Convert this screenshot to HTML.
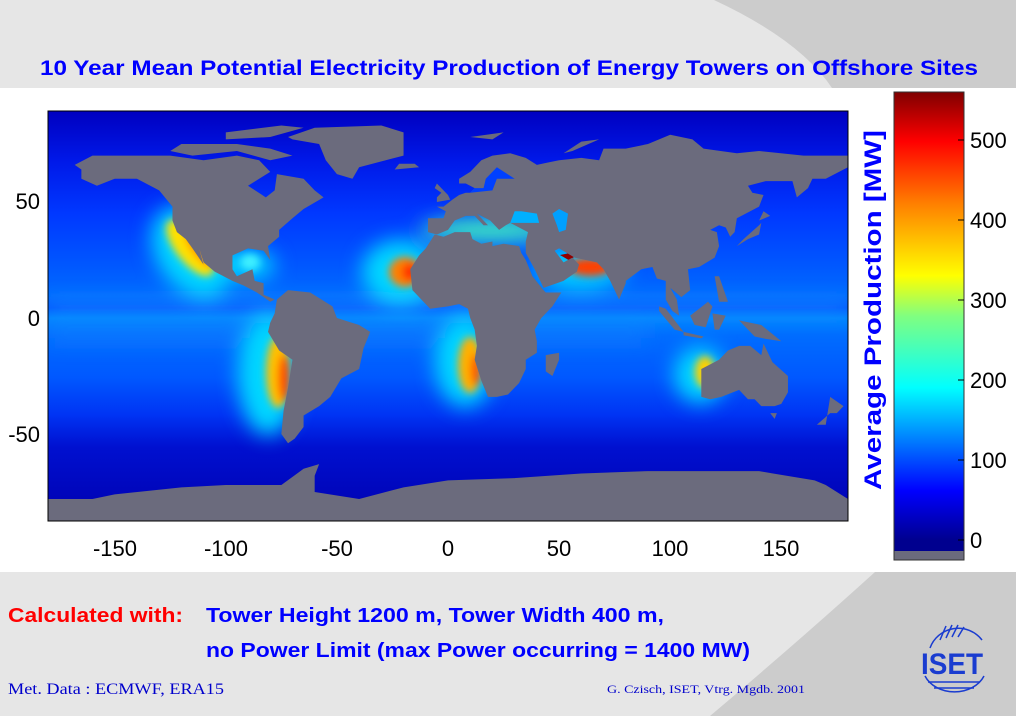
<!DOCTYPE html>
<html><head><meta charset="utf-8"><style>
html,body{margin:0;padding:0;background:#fff}
svg{display:block}
text{font-family:"Liberation Sans",Arial,sans-serif}
</style></head><body>
<svg width="1016" height="716" viewBox="0 0 1016 716" xmlns="http://www.w3.org/2000/svg">
<defs>
<linearGradient id="ocean" x1="0" y1="111" x2="0" y2="521" gradientUnits="userSpaceOnUse">
<stop offset="0" stop-color="#0000c0"/>
<stop offset="0.12" stop-color="#0018e8"/>
<stop offset="0.25" stop-color="#0038ff"/>
<stop offset="0.38" stop-color="#0058ff"/>
<stop offset="0.45" stop-color="#006cff"/>
<stop offset="0.48" stop-color="#005cff"/>
<stop offset="0.505" stop-color="#0084ff"/>
<stop offset="0.55" stop-color="#006cff"/>
<stop offset="0.65" stop-color="#0058ff"/>
<stop offset="0.74" stop-color="#0034f4"/>
<stop offset="0.82" stop-color="#0010d0"/>
<stop offset="1" stop-color="#0000b0"/>
</linearGradient>
<linearGradient id="jet" x1="0" y1="540" x2="0" y2="92" gradientUnits="userSpaceOnUse">
<stop offset="0" stop-color="#00008f"/>
<stop offset="0.11" stop-color="#0000ff"/>
<stop offset="0.34" stop-color="#00ffff"/>
<stop offset="0.5" stop-color="#80ff80"/>
<stop offset="0.59" stop-color="#ffff00"/>
<stop offset="0.75" stop-color="#ff8000"/>
<stop offset="0.89" stop-color="#ff0000"/>
<stop offset="1" stop-color="#7f0000"/>
</linearGradient>
<filter id="b1" x="-50%" y="-50%" width="200%" height="200%"><feGaussianBlur stdDeviation="10"/></filter>
<filter id="b2" x="-50%" y="-50%" width="200%" height="200%"><feGaussianBlur stdDeviation="4"/></filter>
<clipPath id="pc"><rect x="48" y="111" width="800" height="410"/></clipPath>
</defs>
<rect width="1016" height="716" fill="#e6e6e6"/>
<path d="M714,0 Q800,40 832,88 L1016,88 L1016,0Z" fill="#cccccc"/>
<path d="M875,572 Q800,640 710,716 L1016,716 L1016,572Z" fill="#cccccc"/>
<rect x="0" y="88" width="1016" height="484" fill="#ffffff"/>
<text x="40" y="75" font-size="21" font-weight="bold" fill="#0000ff" textLength="938" lengthAdjust="spacingAndGlyphs">10 Year Mean Potential Electricity Production of Energy Towers on Offshore Sites</text>
<g clip-path="url(#pc)">
<rect x="48" y="111" width="800" height="410" fill="url(#ocean)"/>
<g filter="url(#b1)">
<rect x="48" y="302" width="800" height="10" fill="#30a8ff" opacity="0.5"/>
<rect x="48" y="328" width="600" height="14" fill="#2090ff" opacity="0.4"/>
<ellipse cx="192" cy="252" rx="35" ry="50" fill="#00d8ff" transform="rotate(-35 192 252)"/>
<ellipse cx="268" cy="375" rx="30" ry="60" fill="#00d8ff"/>
<ellipse cx="400" cy="272" rx="38" ry="32" fill="#00d8ff"/>
<ellipse cx="465" cy="362" rx="30" ry="45" fill="#00d8ff"/>
<ellipse cx="580" cy="268" rx="45" ry="22" fill="#00d0ff"/>
<ellipse cx="700" cy="375" rx="26" ry="28" fill="#00d8ff"/>
<ellipse cx="250" cy="265" rx="25" ry="15" fill="#00d0ff"/>
<ellipse cx="490" cy="230" rx="70" ry="12" fill="#40f0c0"/>
</g>
<g filter="url(#b2)">
<ellipse cx="190" cy="248" rx="14" ry="34" fill="#ffe000" transform="rotate(-38 190 248)"/>
<ellipse cx="200" cy="250" rx="7" ry="22" fill="#ff9000" transform="rotate(-38 200 250)"/>
<ellipse cx="278" cy="372" rx="12" ry="36" fill="#ffc000"/>
<ellipse cx="284" cy="378" rx="6" ry="24" fill="#ff5000"/>
<ellipse cx="405" cy="272" rx="16" ry="15" fill="#ff8000"/>
<ellipse cx="410" cy="272" rx="8" ry="9" fill="#ff3000"/>
<ellipse cx="470" cy="365" rx="12" ry="28" fill="#ffb000"/>
<ellipse cx="476" cy="370" rx="5" ry="16" fill="#ff5000"/>
<ellipse cx="590" cy="267" rx="22" ry="9" fill="#ff4000"/>
<ellipse cx="705" cy="372" rx="10" ry="16" fill="#ffd000"/>
<ellipse cx="250" cy="262" rx="10" ry="8" fill="#40f0ff"/>
</g>
<polygon points="527,250 540,240 556,278 548,282" fill="#e82000"/>
<polygon points="560,255 575,252 572,262" fill="#900000"/>
<g transform="translate(448,318) scale(2.222,-2.32)" fill="#6b6b7d">
<polygon points="-168,66 -160,70 -140,70 -125,70 -110,68 -95,70 -85,68 -80,63 -90,57 -82,52 -78,55 -77,62 -65,60 -60,55 -56,52 -65,47 -70,43 -76,38 -76,35 -81,31 -80,25 -83,29 -90,30 -97,27 -97,21 -95,18 -88,21 -87,16 -83,15 -83,10 -78,8 -80,7 -86,11 -92,14 -97,16 -105,20 -110,24 -112,30 -110,23 -115,30 -118,34 -122,37 -124,42 -124,48 -130,55 -140,60 -150,60 -158,57 -165,60 -165,64"/>
<polygon points="-72,78 -60,82 -30,83 -20,80 -20,70 -40,65 -43,60 -50,62 -55,68 -58,75 -70,77"/>
<polygon points="-120,75 -95,75 -80,73 -70,70 -80,68 -95,72 -115,70 -125,72"/>
<polygon points="-100,80 -75,83 -65,82 -80,78 -100,77"/>
<polygon points="-24,64 -13,65 -15,66.5 -22,66.5"/>
<polygon points="-77,8 -72,12 -62,11 -52,5 -50,0 -40,-3 -35,-6 -38,-13 -40,-22 -48,-26 -53,-34 -58,-38 -65,-42 -65,-47 -69,-52 -72,-54 -75,-50 -74,-40 -72,-30 -70,-18 -76,-14 -81,-6 -80,-2 -78,2"/>
<polygon points="-9,43 -9,37 -5,36 0,38 3,42 8,44 12,44 16,40 18,40 13,45 19,42 23,38 26,40 28,41 36,37 35,33 35,28 39,21 43,13 52,16 58,20 59,23 56,26 52,24 48,29 50,30 57,26 62,25 67,24 70,21 73,16 77,8 80,15 80,16 87,21 92,22 94,17 98,16 98,8 101,3 104,1 103,8 100,13 105,9 109,12 108,21 113,22 120,26 122,31 121,37 118,38 122,40 125,39 127,35 129,37 130,43 140,48 142,53 137,54 135,57 143,59 155,59 157,52 162,56 164,60 170,60 180,65 180,70 160,70 140,72 130,71 115,73 110,77 100,79 90,75 80,73 70,73 68,68 60,69 50,68 45,67 40,66 35,69 28,71 20,70 15,68 10,63 5,60 5,58 8,58 12,56 10,54 8,54 5,53 2,51 -2,48 -5,48 -1,46 -2,43"/>
<polygon points="-5,50 1,51 0,53 -3,56 -5,58 -6,56 -3,54 -5,52"/>
<polygon points="10,78 25,80 20,77"/>
<polygon points="52,71 60,76 68,77 56,72"/>
<polygon points="130,31 135,34 140,36 141,41 140,40 133,34"/>
<polygon points="140,42 145,44 142,46"/>
<polygon points="-17,21 -16,12 -12,8 -8,4 0,5 5,6 9,4 10,0 12,-5 13,-12 12,-18 15,-27 18,-34 22,-34 27,-33 32,-28 35,-22 35,-18 40,-15 40,-10 39,-5 42,0 47,5 51,11 44,11 43,12 38,18 35,25 33,28 32,31 25,32 20,31 20,33 15,32 11,34 10,37 3,37 -2,35 -6,36 -10,30 -13,27"/>
<polygon points="44,-16 50,-15 50,-18 47,-25 44,-23"/>
<polygon points="114,-22 114,-34 118,-35 123,-34 131,-31 135,-35 138,-35 141,-38 147,-38 150,-37 153,-32 153,-25 146,-19 142,-11 141,-16 136,-12 131,-12 126,-14 122,-18"/>
<polygon points="95,5 98,4 106,-6 102,-5 95,3"/>
<polygon points="109,1 113,4 117,7 119,5 116,-4 111,-3"/>
<polygon points="106,-6 115,-8 114,-8.8 106,-7.5"/>
<polygon points="131,-1 141,-3 150,-10 143,-9 138,-8"/>
<polygon points="120,18 122,18 126,7 122,7"/>
<polygon points="119,2 125,1 122,-5 120,-5"/>
<polygon points="145,-41 148,-41 147,-43.5"/>
<polygon points="172,-34 178,-38 175,-41 172,-41 166,-46 170,-46"/>
<polygon points="-180,-78 -160,-78 -150,-76 -120,-73 -100,-72 -75,-72 -65,-65 -58,-63 -60,-68 -60,-75 -40,-78 -20,-73 0,-70 30,-69 60,-67 90,-66 120,-66 140,-66 165,-70 170,-72 180,-78 180,-90 -180,-90"/>
</g>
<g transform="translate(448,318) scale(2.222,-2.32)">
<polygon points="28,41 41,41 40,45 33,46 30,46" fill="#00b0ff"/>
<polygon points="47,45 50,47 54,45 53,38 50,37 49,40" fill="#00a0ff"/>
<polygon points="10,54 20,55 22,60 30,60 22,65 17,60 16,56 12,56" fill="#0040ff"/>
</g>
</g>
<rect x="48" y="111" width="800" height="410" fill="none" stroke="#000" stroke-width="1"/>
<g font-size="22" fill="#000">
<text x="40" y="209" text-anchor="end">50</text>
<text x="40" y="326" text-anchor="end">0</text>
<text x="40" y="442" text-anchor="end">-50</text>
<g text-anchor="middle">
<text x="115" y="556">-150</text><text x="226" y="556">-100</text><text x="337" y="556">-50</text>
<text x="448" y="556">0</text><text x="559" y="556">50</text><text x="670" y="556">100</text><text x="781" y="556">150</text>
</g>
</g>
<rect x="894" y="92" width="70" height="459" fill="url(#jet)"/>
<rect x="894" y="551" width="70" height="9" fill="#6b6b7d"/>
<rect x="894" y="92" width="70" height="468" fill="none" stroke="#333" stroke-width="1"/>
<g stroke="#000"><line x1="958" y1="140" x2="964" y2="140"/><line x1="958" y1="220" x2="964" y2="220"/><line x1="958" y1="300" x2="964" y2="300"/><line x1="958" y1="380" x2="964" y2="380"/><line x1="958" y1="460" x2="964" y2="460"/><line x1="958" y1="540" x2="964" y2="540"/></g>
<g font-size="22" fill="#000">
<text x="970" y="148">500</text><text x="970" y="228">400</text><text x="970" y="308">300</text>
<text x="970" y="388">200</text><text x="970" y="468">100</text><text x="970" y="548">0</text>
</g>
<text transform="translate(881,310) rotate(-90)" text-anchor="middle" font-size="24" font-weight="bold" fill="#0000ff" textLength="360" lengthAdjust="spacingAndGlyphs">Average Production  [MW]</text>
<text x="8" y="622" font-size="20" font-weight="bold" fill="#ff0000" textLength="175" lengthAdjust="spacingAndGlyphs">Calculated with:</text>
<text x="206" y="622" font-size="20" font-weight="bold" fill="#0000ff" textLength="458" lengthAdjust="spacingAndGlyphs">Tower Height 1200 m, Tower Width 400 m,</text>
<text x="206" y="657" font-size="20" font-weight="bold" fill="#0000ff" textLength="544" lengthAdjust="spacingAndGlyphs">no Power Limit (max Power occurring = 1400 MW)</text>
<text x="8" y="694" font-size="16" fill="#0000cc" style="font-family:'Liberation Serif',serif" textLength="216" lengthAdjust="spacingAndGlyphs">Met. Data : ECMWF, ERA15</text>
<text x="607" y="693" font-size="12" fill="#0000cc" style="font-family:'Liberation Serif',serif" textLength="198" lengthAdjust="spacingAndGlyphs">G. Czisch, ISET, Vtrg. Mgdb. 2001</text>
<g stroke="#1a3cd0" fill="none" stroke-width="1.5">
<path d="M930,648 A30,30 0 0 1 982,640"/>
<line x1="940" y1="640" x2="946" y2="626"/><line x1="946" y1="638" x2="952" y2="625"/><line x1="952" y1="637" x2="958" y2="625"/><line x1="958" y1="637" x2="964" y2="627"/>
<path d="M925,676 A32,26 0 0 0 984,676"/>
<line x1="928" y1="682" x2="980" y2="682"/><line x1="934" y1="688" x2="974" y2="688"/>
</g>
<text x="952" y="674" text-anchor="middle" font-size="30" font-weight="bold" fill="#1a3cd0" textLength="62" lengthAdjust="spacingAndGlyphs">ISET</text>
</svg>
</body></html>
